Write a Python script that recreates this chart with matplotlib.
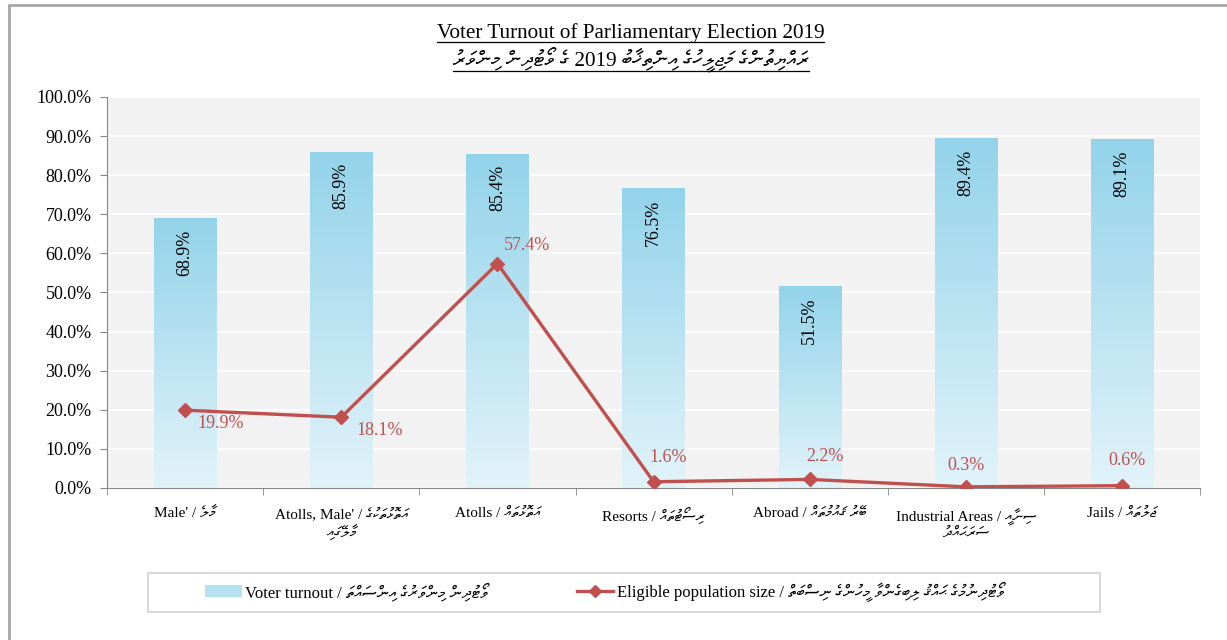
import numpy as np
import matplotlib.pyplot as plt
from matplotlib.patches import Patch, Rectangle
from matplotlib.lines import Line2D
from matplotlib.ticker import PercentFormatter

categories = [
    "Male' / މާލެ",
    "Atolls, Male' / އަތޮޅުތަކުގެ\nމާލޭގައި",
    "Atolls / އަތޮޅުތައް",
    "Resorts / ރިސޯޓުތައް",
    "Abroad / ބޭރު ޤައުމުތައް",
    "Industrial Areas / ސިނާއީ\nސަރަޙައްދު",
    "Jails / ޖަލުތައް",
]
turnout = [68.9, 85.9, 85.4, 76.5, 51.5, 89.4, 89.1]
eligible = [19.9, 18.1, 57.4, 1.6, 2.2, 0.3, 0.6]

title_en = "Voter Turnout of Parliamentary Election 2019"
title_dv = "ރައްޔިތުންގެ މަޖިލީހުގެ އިންތިޚާބު 2019 ގެ ވޯޓުދިން މިންވަރު"
legend_bar = "Voter turnout / ވޯޓުދިން މިންވަރުގެ އިންސައްތަ"
legend_line = "Eligible population size / ވޯޓުދިނުމުގެ ޙައްޤު ލިބިގެންވާ މީހުންގެ ނިސްބަތް"


def is_thaana(s):
    return any("\u0780" <= c <= "\u07bf" for c in s)


def rtl_words(s):
    # matplotlib draws left to right: put Thaana words (and letters) in visual order
    if not is_thaana(s):
        return s
    res = []
    for w in reversed(s.split(" ")):
        res.append(w[::-1] if is_thaana(w) else w)
    return " ".join(res)


def rtl(s):
    out = []
    for line in s.split("\n"):
        if " / " in line:
            en, dv = line.split(" / ", 1)
            out.append(en + " / " + rtl_words(dv))
        else:
            out.append(rtl_words(line))
    return "\n".join(out)


# FreeSerif has the Thaana letters
plt.rcParams["font.family"] = ["Liberation Serif", "FreeSerif", "DejaVu Sans"]

fig = plt.figure(figsize=(12.27, 6.4), dpi=100)
ax = fig.add_axes([0.0872, 0.2375, 0.891, 0.611])
ax.set_facecolor("#f2f2f2")

x = np.arange(len(categories))
width = 0.4
top_c = np.array([0x93, 0xd3, 0xea]) / 255
bot_c = np.array([0xe2, 0xf3, 0xfa]) / 255
grad = np.linspace(0, 1, 256)[:, None]
img = top_c[None, None, :] * (1 - grad[:, :, None]) + bot_c[None, None, :] * grad[:, :, None]

for xi, v in zip(x, turnout):
    ax.imshow(img, extent=[xi - width / 2, xi + width / 2, 0, v],
              aspect="auto", origin="upper", zorder=2)
    ax.text(xi, v - 2.8, f"{v:.1f}%", rotation=90, ha="center", va="top",
            fontsize=13, color="black", zorder=4)

ax.plot(x, eligible, color="#c0504d", lw=2.4, marker="D", ms=7.5,
        zorder=5)

offsets = [(0.08, -1.3, "left", "top"), (0.1, -1.3, "left", "top"),
           (0.04, 2.4, "left", "bottom"), (0.09, 4.0, "center", "bottom"),
           (0.1, 3.8, "center", "bottom"), (0.0, 3.4, "center", "bottom"),
           (0.03, 4.2, "center", "bottom")]
for xi, v, (dx, dy, ha, va) in zip(x, eligible, offsets):
    ax.text(xi + dx, v + dy, f"{v:.1f}%", ha=ha, va=va, fontsize=13,
            color="#c0504d", zorder=6)

ax.set_xlim(-0.5, len(categories) - 0.5)
ax.set_ylim(0, 100)
ax.set_yticks(np.arange(0, 101, 10))
ax.yaxis.set_major_formatter(PercentFormatter(decimals=1))
ax.set_xticks(x)
ax.set_xticklabels([rtl(c) for c in categories], fontsize=11)
ax.set_xticks(np.arange(-0.5, len(categories), 1), minor=True)
ax.tick_params(axis="x", which="major", length=0, pad=14)
ax.tick_params(axis="x", which="minor", length=5, color="#868686")
ax.tick_params(axis="y", length=5, color="#868686", labelsize=13, pad=6)
ax.grid(axis="y", color="white", lw=1.2, zorder=1)
ax.set_axisbelow(True)
for s in ["top", "right"]:
    ax.spines[s].set_visible(False)
for s in ["left", "bottom"]:
    ax.spines[s].set_color("#868686")

# legend frame drawn by hand, the entries sit inside it
fig.patches.append(Rectangle((148 / 1227, 1 - 612 / 640), 952 / 1227, 39 / 640,
                             transform=fig.transFigure, fill=False,
                             edgecolor="#d9d9d9", lw=1.5))
handles = [
    Patch(facecolor="#b5e1f1", edgecolor="none"),
    Line2D([], [], color="#c0504d", lw=2.4, marker="D", ms=6),
]
fig.legend(handles, [rtl(legend_bar), rtl(legend_line)], ncol=2,
           loc="center left", bbox_to_anchor=(200 / 1227, 1 - 592 / 640),
           fontsize=12, frameon=False, columnspacing=5.3,
           handlelength=2.2, handletextpad=0.2, borderpad=0.3,
           borderaxespad=0)

fig.patches.append(Rectangle((0.0073, -0.1), 1.2, 1.092, transform=fig.transFigure,
                             fill=False, edgecolor="#a6a6a6", lw=2))

t1 = fig.text(0.514, 0.948, title_en, ha="center", va="center", fontsize=15.2)
t2 = fig.text(0.514, 0.907, rtl(title_dv), ha="center", va="center", fontsize=15.2)

fig.canvas.draw()
r = fig.canvas.get_renderer()
for t in (t1, t2):
    bb = t.get_window_extent(r).transformed(fig.transFigure.inverted())
    fig.add_artist(Line2D([bb.x0, bb.x1], [bb.y0 + 0.002, bb.y0 + 0.002],
                          transform=fig.transFigure, color="black", lw=0.9))

fig.savefig("out.png", dpi=100)
